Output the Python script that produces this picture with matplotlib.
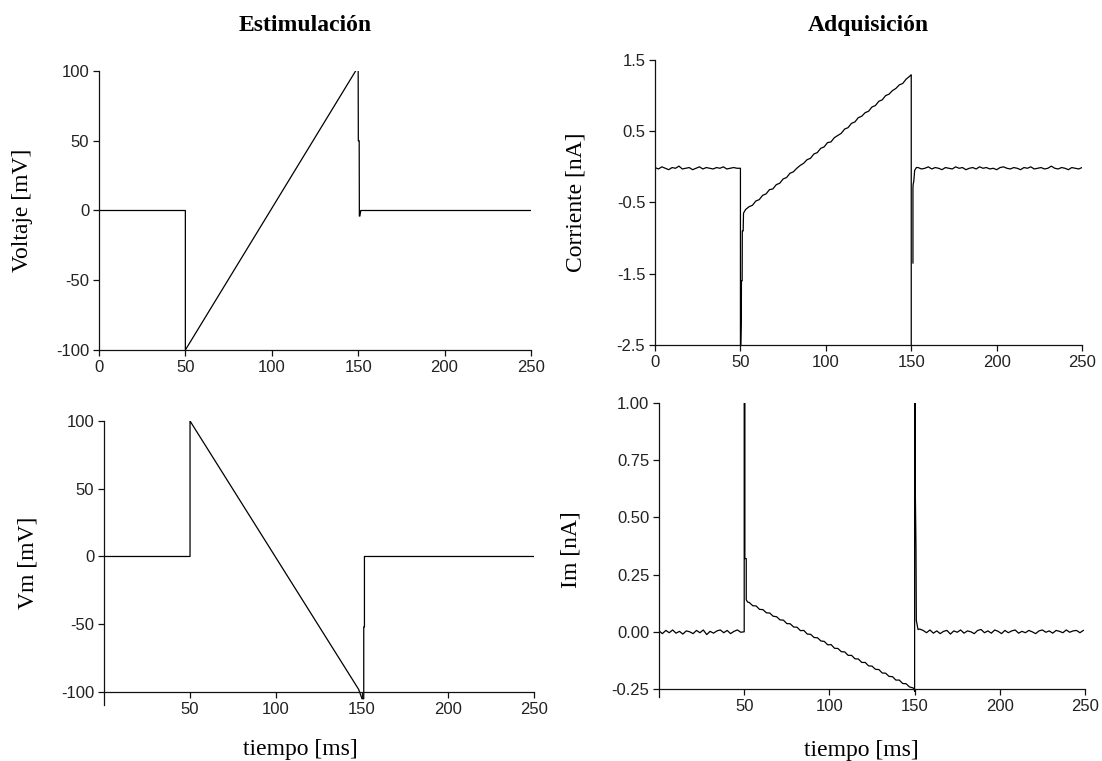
import numpy as np
import matplotlib
matplotlib.use("Agg")
import matplotlib.pyplot as plt

plt.rcParams["axes.unicode_minus"] = False

# ---------------- data ----------------
# Estimulación: command voltage (mV)
v_cmd_t = [0, 50, 50, 150, 150.1, 150.6, 150.7, 151.0, 151.5, 250]
v_cmd_v = [0, 0, -100, 103, 50, 50, -4, -4, 0, 0]

# Estimulación: membrane voltage (mV)
vm_t = [0, 50, 50, 148, 150, 151, 151, 151.4, 151.4, 250]
vm_v = [0, 0, 100, -98, -105, -105, -52, -52, 0, 0]

# Adquisición: total current (nA)
cur_pre_t = np.arange(0, 50, 2)
cur_pre_v = [-0.01, -0.03, 0.00, -0.02, -0.04, -0.01, -0.02, 0.01, -0.03, -0.02,
             -0.01, -0.04, -0.02, 0.00, -0.03, -0.01, -0.02, -0.03, -0.01, -0.02,
             0.00, -0.03, -0.02, -0.01, -0.02]
cur_on_t = [49.9, 50.0, 50.0, 50.5, 50.6, 51.0, 51.1, 51.6, 51.8, 53.0]
cur_on_v = [-0.02, -0.02, -2.8, -2.2, -1.6, -1.6, -0.9, -0.9, -0.65, -0.60]
cur_ramp_t = np.arange(55, 150, 2)
cur_ramp_v = [-0.56, -0.54, -0.48, -0.46, -0.40, -0.38, -0.32, -0.31, -0.25, -0.23,
              -0.17, -0.15, -0.09, -0.07, -0.02, 0.02, 0.05, 0.10, 0.12, 0.18,
              0.20, 0.26, 0.28, 0.34, 0.35, 0.41, 0.44, 0.47, 0.53, 0.55,
              0.61, 0.63, 0.69, 0.71, 0.76, 0.78, 0.84, 0.86, 0.92, 0.94,
              1.00, 1.02, 1.07, 1.10, 1.15, 1.17, 1.23, 1.27]
# NaN marks a gap in the recorded trace (off-scale excursion)
cur_off_t = [149.8, 150.0, 150.0, 150.5, 151.0, 151.0, 151.1, 151.5, 152.0, 153.0]
cur_off_v = [1.29, 1.29, -3.0, np.nan, -1.35, -0.30, -0.25, -0.20, -0.05, -0.01]
cur_post_t = np.arange(154, 251, 2)
cur_post_v = [-0.01, -0.03, -0.02, 0.00, -0.03, -0.01, -0.02, -0.04, -0.01, -0.02,
              -0.03, 0.00, -0.02, -0.01, -0.04, -0.02, -0.01, -0.03, 0.00, -0.02,
              -0.01, -0.03, -0.02, -0.04, -0.01, 0.00, -0.02, -0.03, -0.01, -0.02,
              -0.04, -0.01, -0.02, 0.00, -0.03, -0.02, -0.01, -0.03, -0.02, 0.01,
              -0.02, -0.03, -0.01, -0.02, -0.04, -0.01, -0.02, -0.03, -0.01]

# Adquisición: membrane (ionic) current (nA)
im_pre_t = np.arange(0, 50, 2)
im_pre_v = [0.004, -0.008, 0.006, -0.004, 0.008, -0.006, 0.002, -0.010, 0.004, 0.000,
            -0.008, 0.006, -0.004, 0.008, -0.012, 0.002, -0.006, 0.004, 0.008, -0.004,
            0.006, -0.008, 0.002, 0.008, -0.002]
im_on_t = [49.9, 50.0, 50.0, 50.4, 50.4, 51.2, 51.2, 52.0]
im_on_v = [0.0, 0.0, 1.2, 1.2, 0.32, 0.32, 0.14, 0.13]
im_ramp_t = np.arange(53, 150, 2)
im_ramp_v = [0.128, 0.114, 0.113, 0.098, 0.097, 0.083, 0.082, 0.068, 0.066, 0.052,
             0.051, 0.036, 0.035, 0.021, 0.020, 0.005, 0.006, -0.010, -0.011, -0.025,
             -0.026, -0.040, -0.042, -0.057, -0.056, -0.072, -0.073, -0.087, -0.088, -0.103,
             -0.103, -0.118, -0.119, -0.134, -0.134, -0.149, -0.150, -0.164, -0.165, -0.180,
             -0.181, -0.195, -0.196, -0.211, -0.211, -0.226, -0.227, -0.241, -0.245]
im_off_t = [149.8, 150.0, 150.0, 150.3, 150.4, 150.8, 151.0, 152.0]
im_off_v = [-0.25, -0.26, 1.2, 1.2, 0.62, 0.37, 0.05, 0.01]
im_post_t = np.arange(153, 250, 2)
im_post_v = [0.012, 0.006, -0.004, 0.008, -0.006, 0.004, -0.008, 0.002, 0.006, -0.010,
             0.004, -0.002, 0.008, -0.006, 0.004, 0.000, -0.008, 0.006, 0.010, -0.004,
             0.004, -0.006, 0.008, 0.002, -0.008, 0.006, -0.004, 0.004, 0.008, -0.006,
             0.002, -0.004, 0.006, 0.000, -0.008, 0.004, 0.008, -0.002, 0.004, -0.006,
             0.006, 0.002, -0.004, 0.008, -0.002, 0.004, 0.006, -0.004, 0.006]

# ticks / labels
x_ticks_top = [0, 50, 100, 150, 200, 250]
x_ticks_bottom = [50, 100, 150, 200, 250]
v_ticks = [-100, -50, 0, 50, 100]
cur_ticks = [-2.5, -1.5, -0.5, 0.5, 1.5]
im_ticks = [-0.25, 0.00, 0.25, 0.50, 0.75, 1.00]

# ---------------- figure ----------------
SANS = "Liberation Sans"
SERIF = "Liberation Serif"
LABEL_FS = 17
TICK_FS = 12
fig = plt.figure(figsize=(11.02, 7.61), dpi=100)

def style(ax):
    for s in ("top", "right"):
        ax.spines[s].set_visible(False)
    for s in ("left", "bottom"):
        ax.spines[s].set_linewidth(0.9)
        ax.spines[s].set_color("#111111")
    ax.tick_params(direction="out", length=4, width=0.9, color="#111111",
                   labelsize=TICK_FS, labelcolor="#222222", pad=3)
    for lab in ax.get_xticklabels() + ax.get_yticklabels():
        lab.set_fontfamily(SANS)

lw = 0.9

# Top-left
ax1 = fig.add_axes([0.0898, 0.5401, 0.392, 0.3666])
ax1.plot(v_cmd_t, v_cmd_v, color="black", lw=lw)
ax1.set_xlim(0, 250)
ax1.set_ylim(-100, 100)
ax1.set_xticks(x_ticks_top)
ax1.set_yticks(v_ticks)
style(ax1)
ax1.set_ylabel("Voltaje [mV]", fontfamily=SERIF, fontsize=LABEL_FS)
ax1.yaxis.set_label_coords(-0.152, 0.5)

# Top-right
ax2 = fig.add_axes([0.5944, 0.5467, 0.3875, 0.3745])
t = np.concatenate([cur_pre_t, cur_on_t, cur_ramp_t, cur_off_t, cur_post_t])
v = np.concatenate([cur_pre_v, cur_on_v, cur_ramp_v, cur_off_v, cur_post_v])
ax2.plot(t, v, color="black", lw=lw)
ax2.set_xlim(0, 250)
ax2.set_ylim(-2.5, 1.5)
ax2.set_xticks(x_ticks_top)
ax2.set_yticks(cur_ticks)
ax2.set_yticklabels([f"{y:g}" for y in cur_ticks])
style(ax2)
ax2.set_ylabel("Corriente [nA]", fontfamily=SERIF, fontsize=LABEL_FS)
ax2.yaxis.set_label_coords(-0.16, 0.5)

# Bottom-left
ax3 = fig.add_axes([0.0944, 0.0736, 0.3902, 0.3732])
ax3.plot(vm_t, vm_v, color="black", lw=lw)
ax3.set_xlim(0, 250)
ax3.set_ylim(-109.6, 100)
ax3.spines["bottom"].set_position(("data", -100))
ax3.set_xticks(x_ticks_bottom)
ax3.set_yticks(v_ticks)
style(ax3)
ax3.set_ylabel("Vm [mV]", fontfamily=SERIF, fontsize=LABEL_FS)
ax3.yaxis.set_label_coords(-0.153, 0.5)
ax3.set_xlabel("tiempo [ms]", fontfamily=SERIF, fontsize=LABEL_FS)
ax3.xaxis.set_label_coords(0.456, -0.118)

# Bottom-right
ax4 = fig.add_axes([0.598, 0.0841, 0.3866, 0.3863])
t = np.concatenate([im_pre_t, im_on_t, im_ramp_t, im_off_t, im_post_t])
v = np.concatenate([im_pre_v, im_on_v, im_ramp_v, im_off_v, im_post_v])
ax4.plot(t, v, color="black", lw=lw)
ax4.set_xlim(0, 250)
ax4.set_ylim(-0.285, 1.0)
ax4.spines["bottom"].set_position(("data", -0.25))
ax4.set_xticks(x_ticks_bottom)
ax4.set_yticks(im_ticks)
ax4.set_yticklabels([f"{y:.2f}" for y in im_ticks])
style(ax4)
ax4.set_ylabel("Im [nA]", fontfamily=SERIF, fontsize=LABEL_FS)
ax4.yaxis.set_label_coords(-0.183, 0.5)
ax4.set_xlabel("tiempo [ms]", fontfamily=SERIF, fontsize=LABEL_FS)
ax4.xaxis.set_label_coords(0.474, -0.145)

# Column titles
fig.text(0.277, 0.967, "Estimulación", ha="center", va="center",
         fontfamily=SERIF, fontsize=17, fontweight="bold")
fig.text(0.788, 0.967, "Adquisición", ha="center", va="center",
         fontfamily=SERIF, fontsize=17, fontweight="bold")

fig.savefig("out.png", dpi=100)
